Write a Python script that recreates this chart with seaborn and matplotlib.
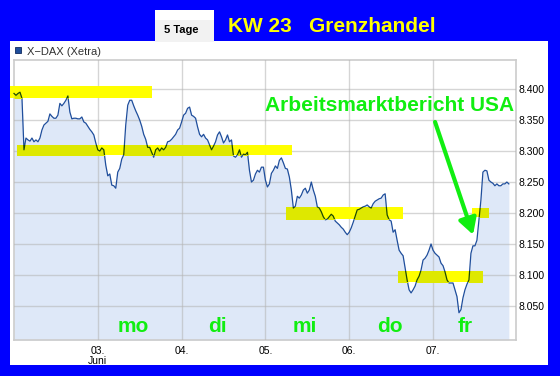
import numpy as np
import seaborn as sns
import matplotlib.pyplot as plt
from matplotlib.patches import Rectangle
from matplotlib.ticker import FuncFormatter

# X-DAX (Xetra) intraday, one value every 1/42 trading day, starting at day 2.0
dax = [
    8393, 8390, 8393, 8395, 8385, 8302, 8321, 8318, 8316, 8321, 8315, 8318, 8315, 8321,
    8334, 8342, 8345, 8348, 8360, 8356, 8353, 8353, 8358, 8377, 8373, 8377, 8382, 8389,
    8363, 8352, 8353, 8353, 8352, 8352, 8355, 8347, 8345, 8340, 8335, 8331, 8326, 8313,
    8302, 8300, 8305, 8302, 8277, 8260, 8263, 8245, 8244, 8240, 8266, 8272, 8287, 8294,
    8342, 8374, 8382, 8382, 8373, 8365, 8358, 8350, 8340, 8327, 8319, 8306, 8306, 8298,
    8290, 8302, 8305, 8300, 8305, 8302, 8306, 8315, 8316, 8319, 8323, 8327, 8334, 8337,
    8347, 8358, 8361, 8369, 8371, 8358, 8356, 8353, 8339, 8327, 8323, 8327, 8321, 8318,
    8310, 8302, 8308, 8315, 8326, 8331, 8323, 8313, 8318, 8326, 8315, 8318, 8292, 8290,
    8294, 8302, 8290, 8295, 8294, 8298, 8269, 8250, 8253, 8263, 8269, 8266, 8274, 8274,
    8253, 8242, 8247, 8264, 8269, 8276, 8272, 8285, 8289, 8281, 8272, 8271, 8258, 8237,
    8208, 8211, 8227, 8224, 8229, 8237, 8240, 8232, 8237, 8250, 8237, 8227, 8210, 8208,
    8202, 8194, 8189, 8190, 8194, 8198, 8195, 8187, 8184, 8181, 8177, 8174, 8169, 8165,
    8169, 8176, 8185, 8195, 8205, 8206, 8208, 8210, 8211, 8213, 8210, 8208, 8215, 8219,
    8221, 8223, 8224, 8229, 8231, 8197, 8189, 8187, 8169, 8173, 8156, 8140, 8135, 8131,
    8111, 8092, 8076, 8071, 8076, 8082, 8092, 8098, 8108, 8124, 8127, 8132, 8140, 8150,
    8140, 8135, 8132, 8129, 8119, 8115, 8105, 8092, 8087, 8087, 8087, 8076, 8065, 8039,
    8044, 8063, 8076, 8085, 8092, 8135, 8147, 8147, 8156, 8189, 8221, 8266, 8269, 8268,
    8253, 8250, 8248, 8244, 8247, 8244, 8244, 8247, 8247, 8250, 8247,
]
t = 2.0 + np.arange(len(dax)) / 42

day_ticks = [3, 4, 5, 6, 7]
day_labels = ["03.\nJuni", "04.", "05.", "06.", "07."]
y_ticks = [8050, 8100, 8150, 8200, 8250, 8300, 8350, 8400]

weekdays = ["mo", "di", "mi", "do", "fr"]
weekday_x = [3.42, 4.43, 5.47, 6.49, 7.38]

# yellow marker bands: start day, end day, level, thickness
band_x0 = [1.95, 2.03, 5.245, 6.58, 7.465]
band_x1 = [3.645, 5.316, 6.642, 7.585, 7.657]
band_level = [8395, 8302, 8200, 8098, 8201]
band_h = [19, 16, 19, 18, 15]

fig = plt.figure(figsize=(5.6, 3.76), dpi=100, facecolor="#0000ff")

# white panel + tab
fig.add_artist(Rectangle((10 / 560, 11 / 376), 538 / 560, 324 / 376,
                         transform=fig.transFigure, facecolor="white", lw=0, zorder=-2))
fig.add_artist(Rectangle((155 / 560, 335 / 376), 59 / 560, 31 / 376,
                         transform=fig.transFigure, facecolor="white", lw=0, zorder=-2))
fig.add_artist(Rectangle((155 / 560, 334 / 376), 59 / 560, 22 / 376,
                         transform=fig.transFigure, facecolor="#f2f2f2", lw=0, zorder=-1))
fig.text(181 / 560, 343 / 376, "5 Tage", ha="center", va="baseline",
         fontsize=8, fontweight="bold", family="Liberation Sans", color="black")
fig.text(332 / 560, 344 / 376, "KW 23   Grenzhandel", ha="center", va="baseline",
         fontsize=15, fontweight="bold", family="Liberation Sans", color="#ffff00")

# legend
fig.add_artist(Rectangle((15 / 560, 323 / 376), 6 / 560, 6 / 376, transform=fig.transFigure,
                         facecolor="#1f4e9c", edgecolor="#102a60", lw=0.6))
fig.text(27 / 560, 321 / 376, "X\u2212DAX (Xetra)", ha="left", va="baseline",
         fontsize=8, family="Liberation Sans", color="#333333")

ax = fig.add_axes([14 / 560, 36 / 376, 502 / 560, 280 / 376])
ax.set_facecolor("white")

line_col = "#1f4e9c"
fill_col = "#dee8f8"
ymin, ymax = 7995, 8447

ax.fill_between(t, dax, ymin, color=fill_col, lw=0, zorder=1)
sns.lineplot(x=t, y=dax, ax=ax, color=line_col, linewidth=0.9, estimator=None, zorder=3)

for x0, x1, lev, h in zip(band_x0, band_x1, band_level, band_h):
    ax.add_patch(Rectangle((x0, lev - h / 2), x1 - x0, h, facecolor="#ffff00",
                           lw=0, zorder=4, clip_on=False))
    clip = Rectangle((x0, lev - h / 2), x1 - x0, h, transform=ax.transData)
    poly = ax.fill_between(t, dax, ymin, color="#dee800", lw=0, zorder=5)
    poly.set_clip_path(clip)
    ln, = ax.plot(t, dax, color="#1e4b00", lw=0.9, zorder=6)
    ln.set_clip_path(clip)

ax.set_xlim(2.0, 7.99)
ax.set_ylim(ymin, ymax)
ax.set_xticks(day_ticks)
ax.set_xticklabels(day_labels, family="Liberation Sans", fontsize=7.5, linespacing=1.0)
ax.set_yticks(y_ticks)
ax.yaxis.set_major_formatter(FuncFormatter(lambda v, p: f"{v:,.0f}".replace(",", ".")))
ax.yaxis.tick_right()
for lab in ax.get_yticklabels():
    lab.set_family("Liberation Sans")
ax.tick_params(axis="y", length=0, pad=2, labelsize=7.5, colors="black")
ax.tick_params(axis="x", length=0, pad=4, colors="black")
ax.set_xlabel("")
ax.set_ylabel("")

ax.set_axisbelow(False)
ax.grid(True, color="#b4b4b4", alpha=0.55, lw=1)
for s in ax.spines.values():
    s.set_color("#cccccc")
    s.set_linewidth(1.2)

# weekday labels
for wx, wd in zip(weekday_x, weekdays):
    ax.text(wx, 8008, wd, ha="center", va="baseline", fontsize=15, fontweight="bold",
            family="Liberation Sans", color="#11ee11", zorder=7)

# annotation
ax.text(6.487, 8365, "Arbeitsmarktbericht USA", ha="center", va="baseline", fontsize=15,
        fontweight="bold", family="Liberation Sans", color="#11ee11", zorder=7, clip_on=False)
ax.annotate("", xy=(7.478, 8165), xytext=(7.024, 8347),
            arrowprops=dict(arrowstyle="-|>,head_length=0.8,head_width=0.45",
                            color="#11ee11", lw=3, mutation_scale=12,
                            shrinkA=0, shrinkB=0), zorder=7, annotation_clip=False)

fig.savefig("out.png", dpi=100, facecolor=fig.get_facecolor())
